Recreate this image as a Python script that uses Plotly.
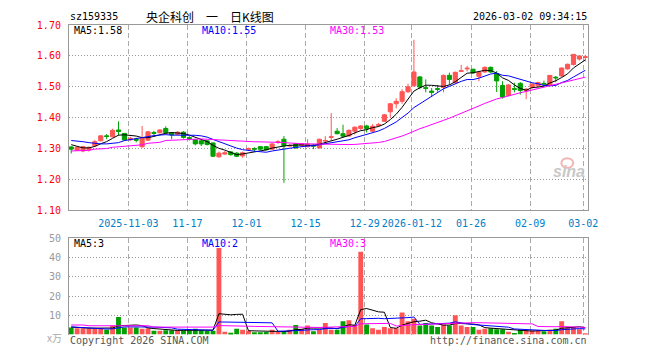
import numpy as np
import pandas as pd
import plotly.graph_objects as go

# ---------------- data ----------------
open_ = [1.305, 1.294, 1.292, 1.296, 1.309, 1.325, 1.341, 1.338, 1.360, 1.349,
         1.328, 1.330, 1.306, 1.327, 1.352, 1.351, 1.365, 1.351, 1.346, 1.353,
         1.335, 1.328, 1.325, 1.325, 1.318, 1.273, 1.282, 1.289, 1.285, 1.276,
         1.297, 1.300, 1.306, 1.306, 1.298, 1.320, 1.330, 1.308, 1.315, 1.309,
         1.306, 1.311, 1.302, 1.324, 1.336, 1.356, 1.348, 1.341, 1.356, 1.365,
         1.373, 1.356, 1.375, 1.388, 1.419, 1.445, 1.453, 1.484, 1.503, 1.532,
         1.497, 1.486, 1.494, 1.498, 1.537, 1.513, 1.550, 1.558, 1.557, 1.534,
         1.548, 1.563, 1.543, 1.504, 1.472, 1.494, 1.511, 1.487, 1.498, 1.503,
         1.511, 1.504, 1.531, 1.535, 1.558, 1.572, 1.590, 1.595]
high = [1.307, 1.306, 1.309, 1.306, 1.328, 1.343, 1.347, 1.364, 1.388, 1.350,
        1.338, 1.335, 1.373, 1.357, 1.357, 1.362, 1.372, 1.353, 1.356, 1.356,
        1.340, 1.330, 1.330, 1.328, 1.320, 1.290, 1.292, 1.292, 1.288, 1.290,
        1.303, 1.304, 1.308, 1.308, 1.317, 1.327, 1.340, 1.315, 1.318, 1.318,
        1.330, 1.315, 1.332, 1.340, 1.415, 1.366, 1.377, 1.362, 1.372, 1.376,
        1.377, 1.379, 1.383, 1.412, 1.447, 1.463, 1.492, 1.510, 1.652, 1.535,
        1.524, 1.496, 1.506, 1.540, 1.546, 1.549, 1.571, 1.568, 1.558, 1.549,
        1.566, 1.566, 1.551, 1.518, 1.509, 1.513, 1.515, 1.496, 1.510, 1.516,
        1.520, 1.538, 1.535, 1.562, 1.575, 1.606, 1.602, 1.603]
low = [1.284, 1.292, 1.288, 1.290, 1.307, 1.323, 1.330, 1.336, 1.342, 1.325,
       1.325, 1.320, 1.302, 1.325, 1.342, 1.349, 1.346, 1.330, 1.344, 1.332,
       1.326, 1.310, 1.308, 1.310, 1.272, 1.270, 1.280, 1.277, 1.272, 1.270,
       1.295, 1.290, 1.295, 1.294, 1.296, 1.315, 1.189, 1.305, 1.300, 1.305,
       1.304, 1.298, 1.300, 1.315, 1.325, 1.346, 1.336, 1.338, 1.345, 1.360,
       1.352, 1.354, 1.370, 1.386, 1.400, 1.430, 1.445, 1.480, 1.500, 1.492,
       1.482, 1.468, 1.484, 1.482, 1.506, 1.511, 1.548, 1.550, 1.542, 1.518,
       1.546, 1.545, 1.483, 1.462, 1.470, 1.482, 1.475, 1.460, 1.494, 1.500,
       1.500, 1.502, 1.515, 1.532, 1.555, 1.569, 1.585, 1.582]
close = [1.298, 1.304, 1.306, 1.304, 1.322, 1.341, 1.339, 1.359, 1.355, 1.328,
         1.333, 1.327, 1.333, 1.354, 1.349, 1.360, 1.351, 1.344, 1.353, 1.336,
         1.333, 1.315, 1.315, 1.313, 1.275, 1.285, 1.286, 1.280, 1.275, 1.286,
         1.300, 1.298, 1.298, 1.296, 1.315, 1.322, 1.309, 1.310, 1.302, 1.316,
         1.315, 1.308, 1.330, 1.326, 1.338, 1.348, 1.340, 1.359, 1.369, 1.373,
         1.365, 1.372, 1.377, 1.409, 1.445, 1.453, 1.484, 1.500, 1.548, 1.499,
         1.495, 1.482, 1.492, 1.537, 1.524, 1.547, 1.552, 1.560, 1.545, 1.547,
         1.563, 1.548, 1.519, 1.467, 1.506, 1.492, 1.488, 1.492, 1.509, 1.514,
         1.509, 1.537, 1.529, 1.561, 1.573, 1.605, 1.600, 1.597]
volume = [3.7, 3.3, 3.3, 3.3, 3.3, 3.3, 2.5, 4.7, 9.2, 3.7,
          3.7, 3.7, 3.0, 3.3, 2.0, 2.0, 2.3, 2.3, 2.3, 2.3,
          2.3, 3.0, 2.3, 2.0, 2.0, 45.0, 1.5, 1.0, 3.0, 2.5,
          2.0, 1.2, 1.2, 1.3, 2.5, 1.3, 1.7, 2.5, 5.0, 3.0,
          4.7, 1.7, 2.5, 6.0, 2.5, 2.5, 7.0, 7.5, 5.0, 43.0,
          5.3, 3.3, 2.5, 4.0, 3.3, 3.3, 11.5, 7.0, 8.3, 4.7,
          6.0, 4.7, 4.0, 5.3, 4.7, 10.0, 4.7, 4.0, 4.0, 2.5,
          3.0, 3.3, 2.8, 2.8, 1.5, 0.8, 2.5, 2.2, 2.2, 2.2,
          1.7, 2.5, 3.0, 7.0, 3.8, 3.8, 2.8, 0.5]

# moving-average values visible at the left edge (history before the window)
ma5_lead = [1.3125, 1.307, 1.302, 1.302]
ma10_lead = [1.326, 1.325, 1.322, 1.319, 1.316, 1.315, 1.315, 1.316, 1.319]
ma30_lead = [1.292, 1.292, 1.292, 1.294, 1.298, 1.299, 1.300, 1.304, 1.306, 1.307,
             1.310, 1.311, 1.312, 1.317, 1.319, 1.320, 1.326, 1.327, 1.329, 1.330,
             1.331, 1.331, 1.331, 1.330, 1.329, 1.327, 1.325, 1.324, 1.323]
vma5_lead = [3.9, 3.6, 3.4, 3.4]
vma10_lead = [4.0, 3.8, 3.5, 3.2, 3.0, 2.9, 2.9, 3.0, 3.5]
vma30_lead = [5.0, 5.0, 5.0] + [4.6] * 11 + [3.9] * 11 + [4.7] * 4

tick_idx = [10, 20, 30, 40, 50, 58, 68, 78, 87]
tick_text = ["2025-11-03", "11-17", "12-01", "12-15", "12-29",
             "2026-01-12", "01-26", "02-09", "03-02"]
price_ticks = [1.10, 1.20, 1.30, 1.40, 1.50, 1.60, 1.70]
vol_ticks = [10, 20, 30, 40, 50]

# ---------------- helpers ----------------
def ma(vals, n, lead):
    s = pd.Series(vals, dtype=float).rolling(n).mean().to_numpy()
    s[:len(lead)] = lead
    return s

W, H = 660, 360
def px(v):
    return v / W
def py(v):
    return 1 - v / H

MONO = "DejaVu Sans Mono"
CJK = "Noto Sans CJK SC"
RED = "#FF5555"
GREEN = "#00A000"
n = len(close)
x = np.arange(n)
up = [c >= o for o, c in zip(open_, close)]
bar_colors = [RED if u else GREEN for u in up]

fig = go.Figure()

fig.add_trace(go.Candlestick(
    x=x, open=open_, high=high, low=low, close=close,
    increasing=dict(line=dict(color=RED, width=1), fillcolor=RED),
    decreasing=dict(line=dict(color=GREEN, width=1), fillcolor=GREEN),
    whiskerwidth=0, xaxis="x", yaxis="y", hoverinfo="skip"))

for vals, nn, lead, col in [(close, 5, ma5_lead, "#000000"),
                            (close, 10, ma10_lead, "#0000FF"),
                            (close, 30, ma30_lead, "#FF00FF")]:
    fig.add_trace(go.Scatter(x=x, y=ma(vals, nn, lead), mode="lines",
                             line=dict(color=col, width=1),
                             xaxis="x", yaxis="y", hoverinfo="skip"))

fig.add_trace(go.Bar(x=x, y=volume, marker=dict(color=bar_colors, line=dict(width=0)),
                     width=0.82, xaxis="x2", yaxis="y2", hoverinfo="skip"))

for vals, nn, lead, col in [(volume, 5, vma5_lead, "#000000"),
                            (volume, 10, vma10_lead, "#0000FF"),
                            (volume, 30, vma30_lead, "#FF00FF")]:
    fig.add_trace(go.Scatter(x=x, y=ma(vals, nn, lead), mode="lines",
                             line=dict(color=col, width=1),
                             xaxis="x2", yaxis="y2", hoverinfo="skip"))

grid_x = [t - 1 / 3 for t in tick_idx]
xrange = [-(72.3 - 70) / 6, (597 - 72.3) / 6]
xdom = [px(70), px(597)]

fig.update_layout(
    width=W, height=H, margin=dict(l=0, r=0, t=0, b=0),
    paper_bgcolor="white", plot_bgcolor="white", showlegend=False,
    boxgap=0.3, boxgroupgap=0,
    xaxis=dict(domain=xdom, range=xrange, anchor="y",
               tickvals=grid_x, ticktext=tick_text, ticks="",
               tickfont=dict(family=MONO, size=10, color="#0080C8"),
               ticklabelstandoff=4,
               showgrid=True, gridcolor="#AAAAAA", gridwidth=1, griddash="5px,3px",
               showline=True, mirror=True, linecolor="#999999", linewidth=1,
               zeroline=False, rangeslider=dict(visible=False), fixedrange=True),
    yaxis=dict(domain=[py(211.7), py(20.7)], range=[1.10, 1.70], anchor="x",
               tickvals=price_ticks, ticktext=["%.2f" % v for v in price_ticks], ticks="",
               tickfont=dict(family=MONO, size=10, color="#FF0000"),
               ticklabelstandoff=5,
               showgrid=True, gridcolor="#999999", gridwidth=1, griddash="1px,2px",
               showline=True, mirror=True, linecolor="#999999", linewidth=1,
               zeroline=False, fixedrange=True),
    xaxis2=dict(domain=xdom, range=xrange, anchor="y2", side="top",
                tickvals=grid_x, showticklabels=False, ticks="",
                showgrid=True, gridcolor="#AAAAAA", gridwidth=1, griddash="5px,3px",
                showline=True, linecolor="#999999", linewidth=1,
                zeroline=False, fixedrange=True),
    yaxis2=dict(domain=[py(340), py(240.7)], range=[0, 50], anchor="x2",
                tickvals=vol_ticks, ticktext=[str(v) for v in vol_ticks], ticks="",
                tickfont=dict(family=MONO, size=10, color="#999999"),
                ticklabelstandoff=5,
                showgrid=True, gridcolor="#999999", gridwidth=1, griddash="1px,2px",
                showline=True, mirror=True, linecolor="#999999", linewidth=1,
                zeroline=False, fixedrange=True),
)

def note(text, xp, yp, color="#000000", anchor="left", size=10, family=MONO, **kw):
    fig.add_annotation(text=text, x=px(xp), y=py(yp), xref="paper", yref="paper",
                       xanchor=anchor, yanchor="middle", showarrow=False, borderpad=0,
                       font=dict(family=family, size=size, color=color), **kw)

note("sz159335", 70, 12)
note("央企科创\u2003一\u2003日K线图", 213.5, 11.5, anchor="center", size=12, family=CJK)
note("2026-03-02 09:34:15", 597, 12, anchor="right")
note("MA5:1.58", 74, 26.5)
note("MA10:1.55", 204, 26.5, color="#0000FF")
note("MA30:1.53", 334.5, 26.5, color="#FF00FF")
note("MA5:3", 74, 246.5)
note("MA10:2", 204, 246.5, color="#0000FF")
note("MA30:3", 334.5, 246.5, color="#FF00FF")
note("x万", 64, 343, color="#AAAAAA", anchor="right", size=10, family=CJK)
note("Copyright 2026 SINA.COM", 70, 346, color="#555555")
note("http://finance.sina.com.cn", 597, 346, color="#555555", anchor="right")
note("<i><b>sina</b></i>", 578, 172, color="#C8C8C8", anchor="center", size=16, family="Liberation Sans")
fig.add_shape(type="circle", xref="paper", yref="paper",
              x0=px(570), x1=px(582), y0=py(168), y1=py(158),
              line=dict(color="rgba(240,150,150,0.7)", width=2))

fig.write_html("out.html")
